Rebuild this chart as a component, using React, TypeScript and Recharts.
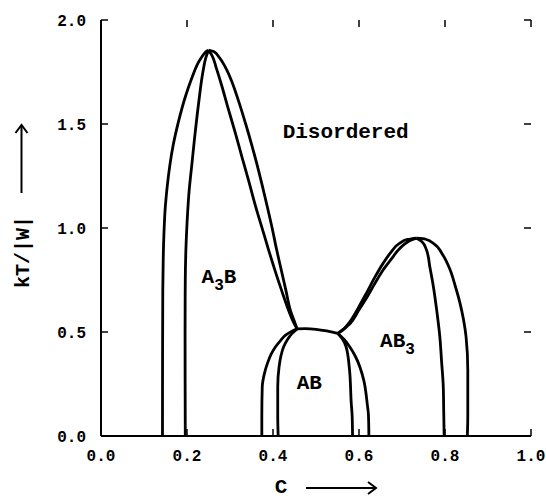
import { LineChart, Line, XAxis, YAxis, ReferenceDot } from "recharts"

type Pt = { c: number; t: number }

// A3B dome
const a3bOuterLeft: Pt[] = [
  { c: 0.143, t: 0 }, { c: 0.1432, t: 0.4 }, { c: 0.1437, t: 0.7 }, { c: 0.1447, t: 0.85 },
  { c: 0.1465, t: 0.98 }, { c: 0.1495, t: 1.1 }, { c: 0.154, t: 1.2 }, { c: 0.16, t: 1.3 },
  { c: 0.168, t: 1.4 }, { c: 0.18, t: 1.51 }, { c: 0.196, t: 1.63 }, { c: 0.212, t: 1.725 },
  { c: 0.229, t: 1.805 }, { c: 0.24, t: 1.838 }, { c: 0.245, t: 1.849 }, { c: 0.25, t: 1.855 },
]
const a3bInnerLeft: Pt[] = [
  { c: 0.196, t: 0 }, { c: 0.1955, t: 0.5 }, { c: 0.196, t: 0.75 }, { c: 0.1975, t: 0.9 },
  { c: 0.2, t: 1.02 }, { c: 0.205, t: 1.18 }, { c: 0.211, t: 1.3 }, { c: 0.217, t: 1.42 },
  { c: 0.227, t: 1.6 }, { c: 0.237, t: 1.75 }, { c: 0.244, t: 1.82 }, { c: 0.25, t: 1.855 },
]
const a3bInnerRight: Pt[] = [
  { c: 0.456, t: 0.515 }, { c: 0.447, t: 0.55 }, { c: 0.437, t: 0.6 }, { c: 0.42, t: 0.7 },
  { c: 0.404, t: 0.8 }, { c: 0.389, t: 0.9 }, { c: 0.376, t: 0.99 }, { c: 0.36, t: 1.1 },
  { c: 0.343, t: 1.23 }, { c: 0.328, t: 1.34 }, { c: 0.312, t: 1.46 }, { c: 0.295, t: 1.58 },
  { c: 0.28, t: 1.69 }, { c: 0.268, t: 1.77 }, { c: 0.258, t: 1.83 }, { c: 0.25, t: 1.855 },
]
const a3bOuterRight: Pt[] = [
  { c: 0.456, t: 0.515 }, { c: 0.449, t: 0.555 }, { c: 0.441, t: 0.6 }, { c: 0.43, t: 0.7 },
  { c: 0.419, t: 0.8 }, { c: 0.408, t: 0.9 }, { c: 0.398, t: 1.0 }, { c: 0.387, t: 1.1 },
  { c: 0.3755, t: 1.2 }, { c: 0.3635, t: 1.3 }, { c: 0.3505, t: 1.4 }, { c: 0.3365, t: 1.5 },
  { c: 0.32, t: 1.61 }, { c: 0.305, t: 1.7 }, { c: 0.29, t: 1.77 }, { c: 0.275, t: 1.82 },
  { c: 0.262, t: 1.848 }, { c: 0.25, t: 1.855 },
]

// AB dome
const abOuterLeft: Pt[] = [
  { c: 0.374, t: 0 }, { c: 0.374, t: 0.1 }, { c: 0.375, t: 0.237 }, { c: 0.38, t: 0.3 },
  { c: 0.387, t: 0.349 }, { c: 0.396, t: 0.395 }, { c: 0.406, t: 0.429 }, { c: 0.418, t: 0.46 },
  { c: 0.43, t: 0.486 }, { c: 0.443, t: 0.503 }, { c: 0.456, t: 0.515 },
]
const abInnerLeft: Pt[] = [
  { c: 0.412, t: 0 }, { c: 0.411, t: 0.1 }, { c: 0.411, t: 0.237 }, { c: 0.414, t: 0.33 },
  { c: 0.418, t: 0.381 }, { c: 0.425, t: 0.43 }, { c: 0.433, t: 0.462 }, { c: 0.444, t: 0.492 },
  { c: 0.456, t: 0.515 },
]
const abTop: Pt[] = [
  { c: 0.456, t: 0.515 }, { c: 0.475, t: 0.516 }, { c: 0.5, t: 0.513 }, { c: 0.525, t: 0.505 },
  { c: 0.551, t: 0.493 },
]
const abInnerRight: Pt[] = [
  { c: 0.585, t: 0 }, { c: 0.584, t: 0.1 }, { c: 0.582, t: 0.157 }, { c: 0.578, t: 0.317 },
  { c: 0.57, t: 0.429 }, { c: 0.561, t: 0.468 }, { c: 0.551, t: 0.493 },
]
const abOuterRight: Pt[] = [
  { c: 0.623, t: 0 }, { c: 0.622, t: 0.1 }, { c: 0.619, t: 0.157 }, { c: 0.611, t: 0.269 },
  { c: 0.592, t: 0.381 }, { c: 0.578, t: 0.43 }, { c: 0.565, t: 0.465 }, { c: 0.551, t: 0.493 },
]

// AB3 dome
const ab3UpperLeft: Pt[] = [
  { c: 0.551, t: 0.493 }, { c: 0.565, t: 0.515 }, { c: 0.579, t: 0.55 }, { c: 0.598, t: 0.615 },
  { c: 0.617, t: 0.686 }, { c: 0.636, t: 0.76 }, { c: 0.656, t: 0.83 }, { c: 0.675, t: 0.885 },
  { c: 0.694, t: 0.926 }, { c: 0.713, t: 0.945 }, { c: 0.722, t: 0.948 }, { c: 0.734, t: 0.951 },
]
const ab3LowerLeft: Pt[] = [
  { c: 0.551, t: 0.493 }, { c: 0.579, t: 0.54 }, { c: 0.598, t: 0.6 }, { c: 0.617, t: 0.662 },
  { c: 0.636, t: 0.73 }, { c: 0.656, t: 0.798 }, { c: 0.675, t: 0.85 }, { c: 0.694, t: 0.9 },
  { c: 0.713, t: 0.933 }, { c: 0.725, t: 0.945 }, { c: 0.734, t: 0.951 },
]
const ab3InnerRight: Pt[] = [
  { c: 0.798, t: 0 }, { c: 0.797, t: 0.12 }, { c: 0.796, t: 0.237 }, { c: 0.792, t: 0.36 },
  { c: 0.788, t: 0.477 }, { c: 0.781, t: 0.6 }, { c: 0.773, t: 0.718 }, { c: 0.765, t: 0.81 },
  { c: 0.757, t: 0.894 }, { c: 0.746, t: 0.935 }, { c: 0.734, t: 0.951 },
]
const ab3OuterRight: Pt[] = [
  { c: 0.852, t: 0 }, { c: 0.853, t: 0.1 }, { c: 0.853, t: 0.317 }, { c: 0.849, t: 0.477 },
  { c: 0.843, t: 0.56 }, { c: 0.835, t: 0.638 }, { c: 0.824, t: 0.72 }, { c: 0.812, t: 0.798 },
  { c: 0.795, t: 0.87 }, { c: 0.773, t: 0.926 }, { c: 0.755, t: 0.946 }, { c: 0.734, t: 0.951 },
]

const xTicks = [0, 0.2, 0.4, 0.6, 0.8, 1.0]
const yTicks = [0, 0.5, 1.0, 1.5, 2.0]
const xLabel = "C"
const yLabel = "kT/|W|"
const phaseNames = [["Disordered", "", ""], ["A", "3", "B"], ["AB", "", ""], ["AB", "3", ""]]

const FONT = "'Liberation Mono', 'DejaVu Sans Mono', monospace"
const W = 546
const H = 499
const M = { top: 20, right: 15, bottom: 0, left: 0 }
const PLOT_TOP = M.top
const PLOT_RIGHT = W - M.right
const TICK = 7

const curves: { data: Pt[]; type: "monotoneY" | "monotoneX" }[] = [
  { data: a3bOuterLeft, type: "monotoneY" },
  { data: a3bInnerLeft, type: "monotoneY" },
  { data: a3bInnerRight, type: "monotoneY" },
  { data: a3bOuterRight, type: "monotoneY" },
  { data: abOuterLeft, type: "monotoneY" },
  { data: abInnerLeft, type: "monotoneY" },
  { data: abTop, type: "monotoneX" },
  { data: abInnerRight, type: "monotoneY" },
  { data: abOuterRight, type: "monotoneY" },
  { data: ab3UpperLeft, type: "monotoneY" },
  { data: ab3LowerLeft, type: "monotoneY" },
  { data: ab3InnerRight, type: "monotoneY" },
  { data: ab3OuterRight, type: "monotoneY" },
]

// bottom tick: label below the frame, plus inward marks on bottom and top edges
function XTick({ x, y, payload }: any) {
  const base = y - 14
  return (
    <g>
      <line x1={x} y1={base} x2={x} y2={base - TICK} stroke="#000" strokeWidth={1.5} />
      <line x1={x} y1={PLOT_TOP} x2={x} y2={PLOT_TOP + TICK} stroke="#000" strokeWidth={1.5} />
      <text x={x} y={y} dy="0.71em" textAnchor="middle" fontFamily={FONT} fontWeight="bold" fontSize={16} fill="#000">
        {Number(payload.value).toFixed(1)}
      </text>
    </g>
  )
}

// left tick: label left of the frame, plus inward marks on left and right edges
function YTick({ x, y, payload }: any) {
  const base = x + 15
  return (
    <g>
      <line x1={base} y1={y} x2={base + TICK} y2={y} stroke="#000" strokeWidth={1.5} />
      <line x1={PLOT_RIGHT} y1={y} x2={PLOT_RIGHT - TICK} y2={y} stroke="#000" strokeWidth={1.5} />
      <text x={x} y={y} dy="0.355em" textAnchor="end" fontFamily={FONT} fontWeight="bold" fontSize={16} fill="#000">
        {Number(payload.value).toFixed(1)}
      </text>
    </g>
  )
}

function PhaseText({ viewBox, parts, anchor }: any) {
  const { x, y } = viewBox || {}
  const [main, sub, tail] = parts
  return (
    <text x={x} y={y} textAnchor={anchor} fontFamily={FONT} fontWeight="bold" fontSize={21} fill="#000">
      <tspan>{main}</tspan>
      {sub ? <tspan fontSize={16} dy={7}>{sub}</tspan> : null}
      {tail ? <tspan dy={-7}>{tail}</tspan> : null}
    </text>
  )
}

function XTitle({ viewBox }: any) {
  const { x, y } = viewBox
  const cx = x + 180
  const ay = y + 52
  return (
    <g>
      <text x={cx} y={y + 57} textAnchor="middle" fontFamily={FONT} fontWeight="bold" fontSize={21} fill="#000">
        {xLabel}
      </text>
      <line x1={cx + 25} y1={ay} x2={cx + 95} y2={ay} stroke="#000" strokeWidth={2} />
      <path d={`M${cx + 87} ${ay - 6} L${cx + 95} ${ay} L${cx + 87} ${ay + 6}`} fill="none" stroke="#000" strokeWidth={2} />
    </g>
  )
}

function YTitle({ viewBox }: any) {
  const { y } = viewBox
  const cx = 21.5
  const cy = y + 232
  const top = y + 105
  const bot = y + 173
  return (
    <g>
      <text
        x={cx}
        y={cy}
        transform={`rotate(-90 ${cx} ${cy})`}
        dy={7}
        textAnchor="middle"
        fontFamily={FONT}
        fontWeight="bold"
        fontSize={20}
        fill="#000"
      >
        {yLabel}
      </text>
      <line x1={cx} y1={bot} x2={cx} y2={top} stroke="#000" strokeWidth={2} />
      <path d={`M${cx - 6} ${top + 8} L${cx} ${top} L${cx + 6} ${top + 8}`} fill="none" stroke="#000" strokeWidth={2} />
    </g>
  )
}

const blank = () => ""

export default function App() {
  const axisLine = { stroke: "#000", strokeWidth: 2 }
  return (
    <div style={{ position: "absolute", left: 0, top: 0, background: "#fff" }}>
      <LineChart width={W} height={H} margin={M}>
        {/* top and right frame edges */}
        <XAxis xAxisId="top" orientation="top" mirror type="number" domain={[0, 1]} ticks={xTicks}
          tickFormatter={blank} height={0} axisLine={axisLine} tickLine={false} allowDataOverflow />
        <YAxis yAxisId="right" orientation="right" mirror type="number" domain={[0, 2]} ticks={yTicks}
          tickFormatter={blank} width={0} axisLine={axisLine} tickLine={false} allowDataOverflow />
        <XAxis
          dataKey="c"
          type="number"
          domain={[0, 1]}
          ticks={xTicks}
          tick={<XTick />}
          tickSize={6}
          tickMargin={8}
          height={63}
          axisLine={axisLine}
          tickLine={false}
          interval={0}
          allowDataOverflow
          label={{ content: (p: any) => <XTitle {...p} /> }}
        />
        <YAxis
          dataKey="t"
          type="number"
          domain={[0, 2]}
          ticks={yTicks}
          tick={<YTick />}
          tickSize={6}
          tickMargin={9}
          width={101}
          axisLine={axisLine}
          tickLine={false}
          interval={0}
          allowDataOverflow
          label={{ content: (p: any) => <YTitle {...p} /> }}
        />
        {curves.map((cv, i) => (
          <Line
            key={i}
            data={cv.data}
            dataKey="t"
            type={cv.type}
            stroke="#000"
            strokeWidth={2.8}
            dot={false}
            activeDot={false}
            isAnimationActive={false}
          />
        ))}
        <ReferenceDot x={0.569} y={1.435} r={0} label={{ content: (p: any) => <PhaseText {...p} parts={phaseNames[0]} anchor="middle" /> }} />
        <ReferenceDot x={0.234} y={0.734} r={0} label={{ content: (p: any) => <PhaseText {...p} parts={phaseNames[1]} anchor="start" /> }} />
        <ReferenceDot x={0.455} y={0.225} r={0} label={{ content: (p: any) => <PhaseText {...p} parts={phaseNames[2]} anchor="start" /> }} />
        <ReferenceDot x={0.649} y={0.429} r={0} label={{ content: (p: any) => <PhaseText {...p} parts={phaseNames[3]} anchor="start" /> }} />
      </LineChart>
    </div>
  )
}
